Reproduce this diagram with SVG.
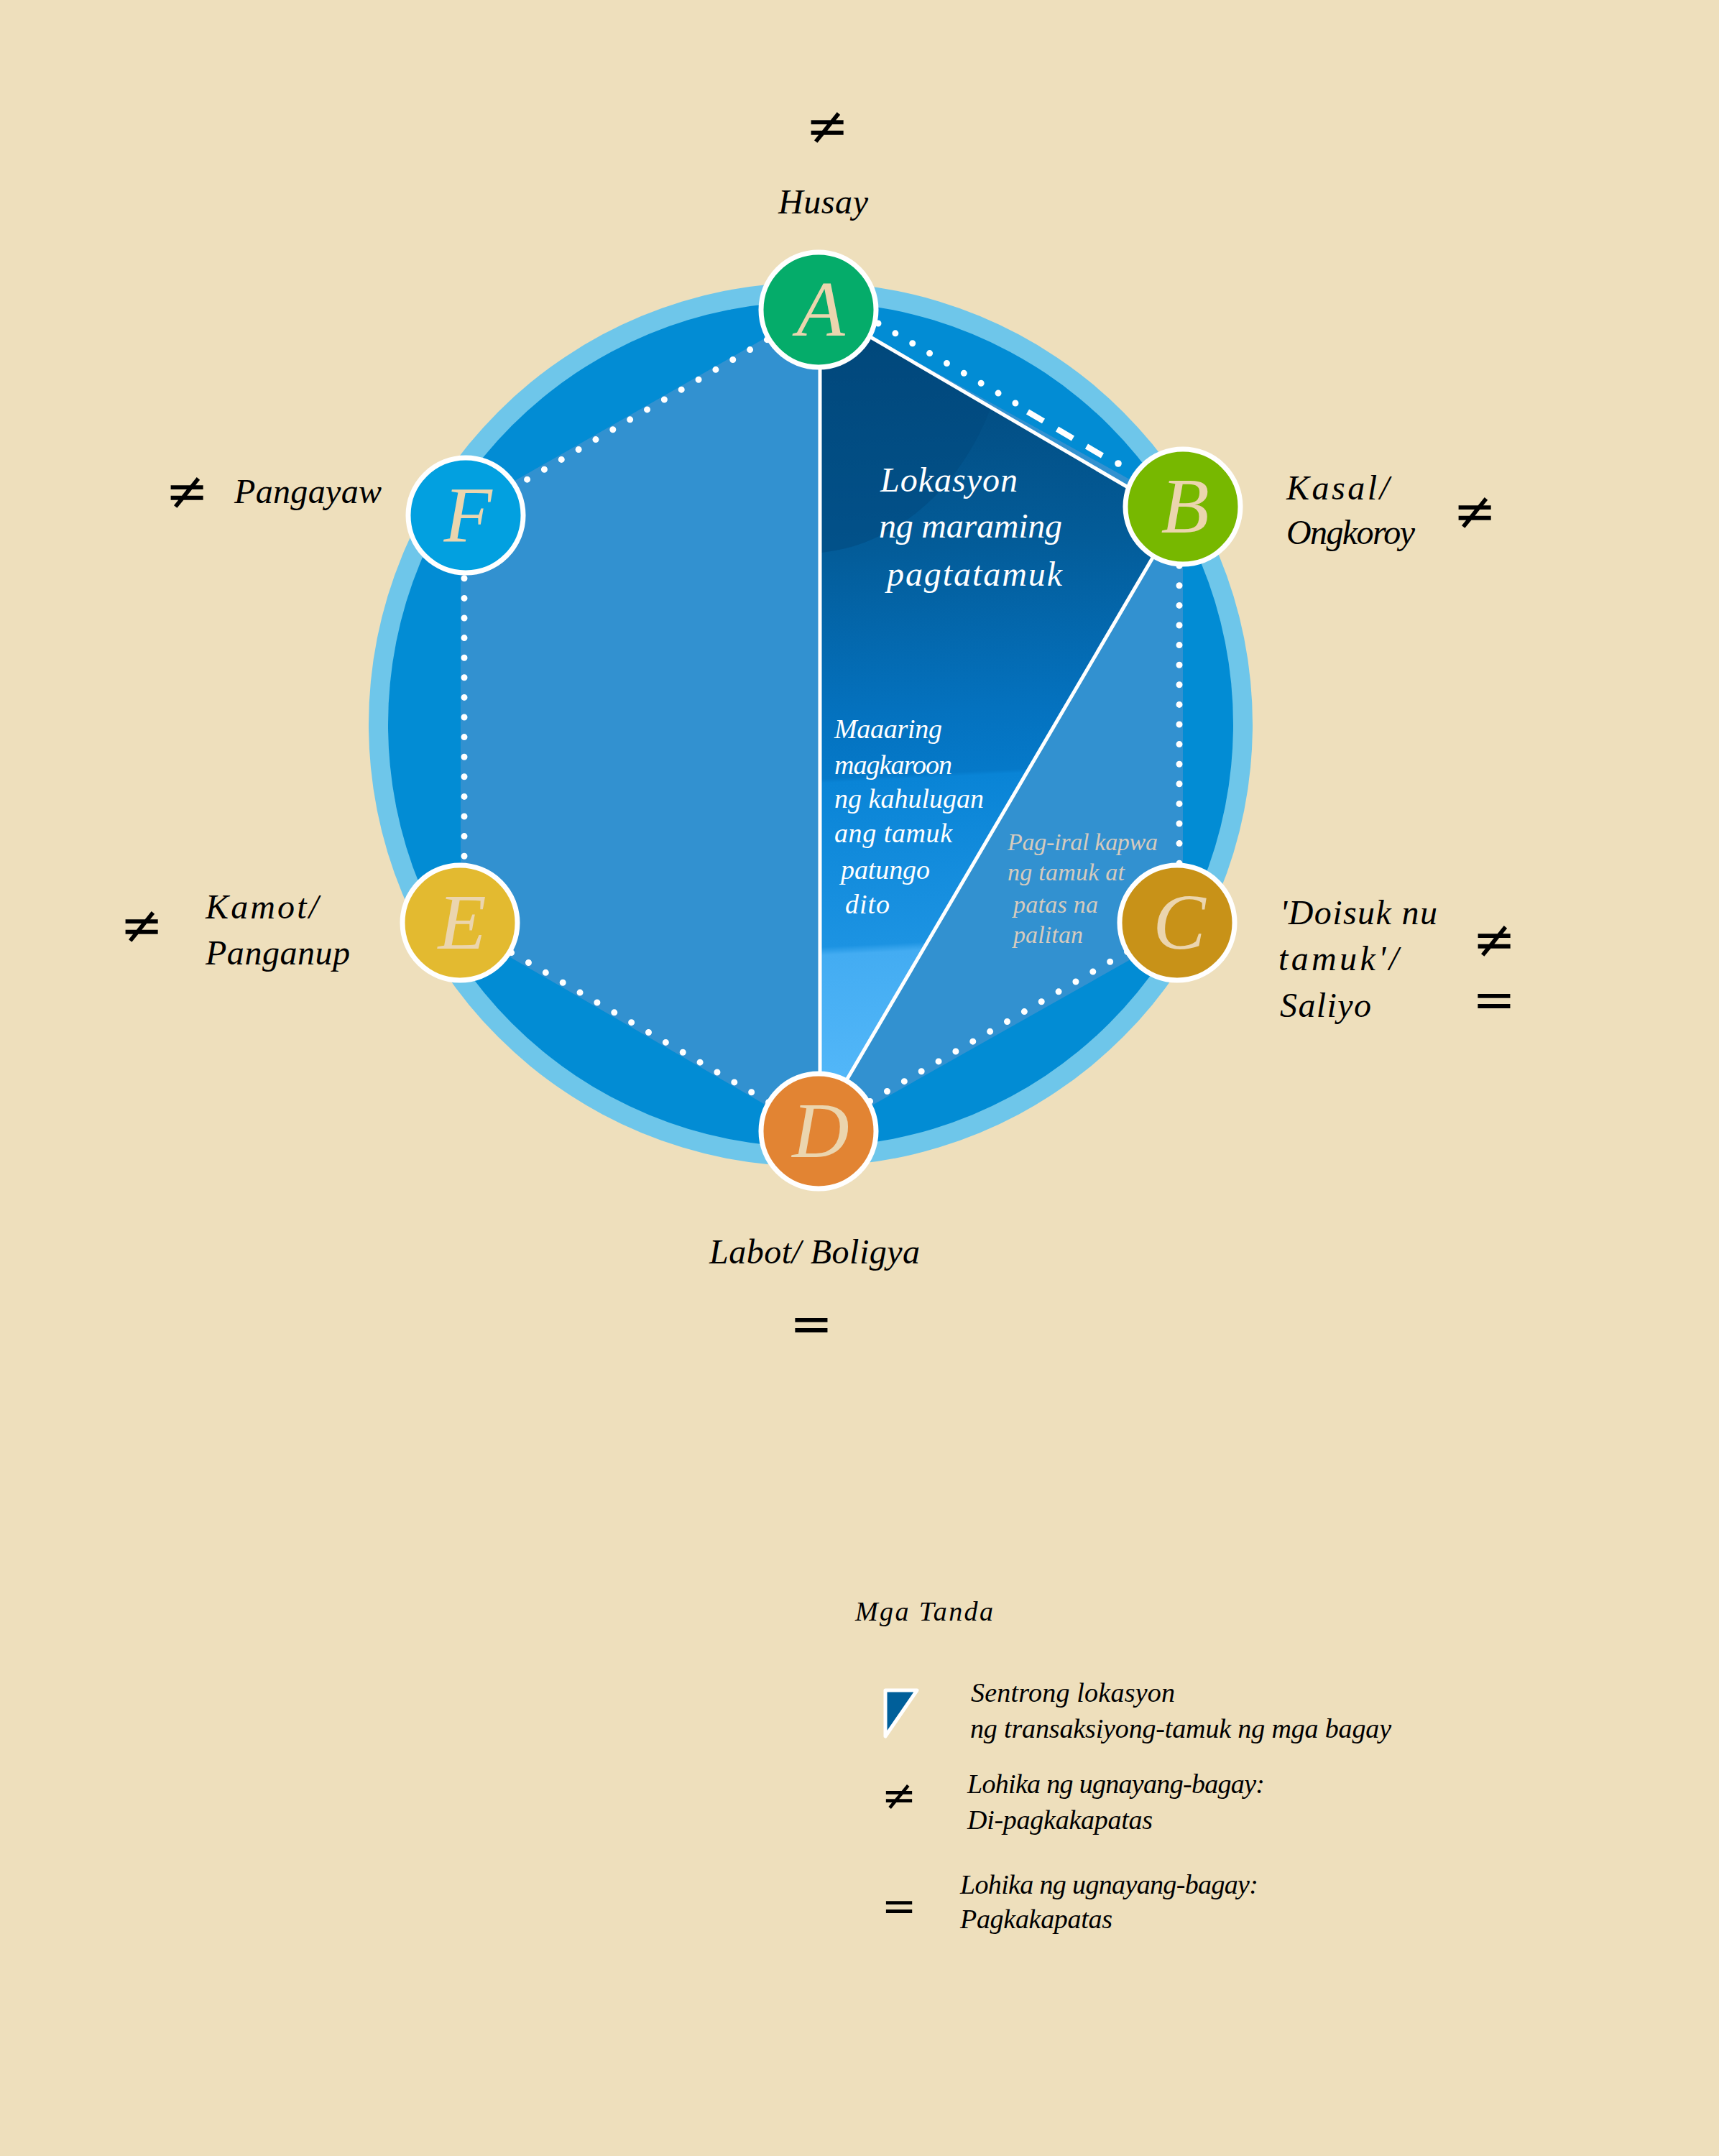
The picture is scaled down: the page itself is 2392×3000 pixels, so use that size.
<svg xmlns="http://www.w3.org/2000/svg" width="2392" height="3000" viewBox="0 0 2392 3000">
<defs>
<style>
.lbl{font-family:'Liberation Serif','DejaVu Serif',serif;font-style:italic;fill:#000;font-size:48px}
.inw{font-family:'Liberation Serif','DejaVu Serif',serif;font-style:italic;fill:#fff}
.pag{font-family:'Liberation Serif','DejaVu Serif',serif;font-style:italic;fill:#D6CBBE;font-size:34px}
.leg{font-family:'Liberation Serif','DejaVu Serif',serif;font-style:italic;fill:#000;font-size:38px}
.sym{font-family:'DejaVu Sans',sans-serif;font-size:72px;fill:#000;text-anchor:middle}
.symS{font-family:'DejaVu Sans',sans-serif;font-size:58px;fill:#000;text-anchor:middle}
.dot{stroke:#fff;stroke-width:9;stroke-linecap:round;stroke-dasharray:0 27.6;fill:none}
.node circle{stroke:#fff;stroke-width:7}
.node text{font-family:'Liberation Serif','DejaVu Serif',serif;font-style:italic;font-size:110px;fill:#EBD5AE;text-anchor:middle}
</style>
<linearGradient id="triGrad" gradientUnits="userSpaceOnUse" x1="1141" y1="428" x2="1200" y2="1566">
<stop offset="0" stop-color="#024474"/>
<stop offset="0.30" stop-color="#035c99"/>
<stop offset="0.50" stop-color="#0472bf"/>
<stop offset="0.575" stop-color="#0579c9"/>
<stop offset="0.58" stop-color="#0984d6"/>
<stop offset="0.78" stop-color="#1c93e2"/>
<stop offset="0.79" stop-color="#43acf2"/>
<stop offset="1" stop-color="#58bbfb"/>
</linearGradient>
<clipPath id="triClip"><polygon points="1141,428 1638,718 1141,1566"/></clipPath>
</defs>

<rect x="0" y="0" width="2392" height="3000" fill="#EEDFBC"/>

<g id="disc">
<circle cx="1128" cy="1008" r="615" fill="#6EC6EA"/>
<circle cx="1128" cy="1008" r="588" fill="#028CD4"/>
<polygon points="1139,428 1646,708 1646,1294 1139,1580 641,1292 641,712" fill="#3291D0"/>
</g>

<g id="focus-triangle">
<polygon points="1141,428 1638,718 1141,1566" fill="url(#triGrad)"/>
<ellipse cx="1120" cy="420" rx="285" ry="350" fill="#01487e" opacity="0.55" clip-path="url(#triClip)"/>
<polygon points="1141,428 1638,718 1141,1566" fill="none" stroke="#fff" stroke-width="5" stroke-linejoin="round"/>
</g>

<g id="connectors">
<line class="dot" x1="1139" y1="431" x2="648" y2="717"/>
<line class="dot" x1="646" y1="722" x2="646" y2="1284"/>
<line class="dot" x1="640" y1="1284" x2="1139" y2="1574"/>
<line class="dot" x1="1139" y1="1574" x2="1638" y2="1284"/>
<line class="dot" x1="1641" y1="1284" x2="1641" y2="705"/>
<line class="dot" x1="1222" y1="450" x2="1413" y2="561"/>
<line x1="1430" y1="573" x2="1534" y2="634" stroke="#fff" stroke-width="8" stroke-dasharray="25.5 22"/>
<circle cx="1556" cy="645" r="4.8" fill="#fff"/>
</g>

<g id="node-A" class="node"><circle cx="1139" cy="431" r="80" fill="#05AC6A"/><text x="1142" y="467">A</text></g>
<g id="node-B" class="node"><circle cx="1646" cy="705" r="80" fill="#77B800"/><text x="1649" y="741">B</text></g>
<g id="node-C" class="node"><circle cx="1638" cy="1284" r="80" fill="#C89218"/><text x="1641" y="1320">C</text></g>
<g id="node-D" class="node"><circle cx="1139" cy="1574" r="80" fill="#E28433"/><text x="1142" y="1610">D</text></g>
<g id="node-E" class="node"><circle cx="640" cy="1284" r="80" fill="#E3BA30"/><text x="643" y="1320">E</text></g>
<g id="node-F" class="node"><circle cx="648" cy="717" r="80" fill="#02A0E0"/><text x="651" y="753">F</text></g>

<g id="labels">
<text class="sym" x="1151" y="200">≠</text>
<text class="lbl" x="1083" y="297" textLength="125">Husay</text>

<text class="sym" x="260" y="708">≠</text>
<text class="lbl" x="326" y="700" textLength="205">Pangayaw</text>

<text class="lbl" x="1790" y="695" textLength="143">Kasal/</text>
<text class="lbl" x="1790" y="757" textLength="179">Ongkoroy</text>
<text class="sym" x="2052" y="736">≠</text>

<text class="sym" x="197" y="1312">≠</text>
<text class="lbl" x="286" y="1278" textLength="157">Kamot/</text>
<text class="lbl" x="286" y="1342" textLength="201">Panganup</text>

<text class="lbl" x="1781" y="1286" textLength="219">'Doisuk nu</text>
<text class="lbl" x="1779" y="1350" textLength="167">tamuk'/</text>
<text class="lbl" x="1781" y="1415" textLength="127">Saliyo</text>
<text class="sym" x="2079" y="1332">≠</text>
<text class="sym" x="2079" y="1415">=</text>

<text class="lbl" x="987" y="1758" textLength="293">Labot/ Boligya</text>
<text class="sym" x="1129" y="1866">=</text>

<text class="inw" font-size="48" x="1225" y="684" textLength="191">Lokasyon</text>
<text class="inw" font-size="48" x="1223" y="748" textLength="255">ng maraming</text>
<text class="inw" font-size="48" x="1234" y="815" textLength="244">pagtatamuk</text>

<text class="inw" font-size="38" x="1161" y="1027" textLength="150">Maaaring</text>
<text class="inw" font-size="38" x="1161" y="1077" textLength="164">magkaroon</text>
<text class="inw" font-size="38" x="1161" y="1124" textLength="208">ng kahulugan</text>
<text class="inw" font-size="38" x="1161" y="1172" textLength="164">ang tamuk</text>
<text class="inw" font-size="38" x="1170" y="1223" textLength="124">patungo</text>
<text class="inw" font-size="38" x="1176" y="1271" textLength="62">dito</text>

<text class="pag" x="1402" y="1183" textLength="209">Pag-iral kapwa</text>
<text class="pag" x="1402" y="1225" textLength="163">ng tamuk at</text>
<text class="pag" x="1410" y="1270" textLength="118">patas na</text>
<text class="pag" x="1410" y="1312" textLength="97">palitan</text>
</g>

<g id="legend">
<text class="leg" x="1190" y="2255" textLength="192">Mga Tanda</text>
<polygon points="1232,2352 1276,2352 1232,2416" fill="#005F9A" stroke="#fff" stroke-width="5" stroke-linejoin="round"/>
<text class="leg" x="1351" y="2368" textLength="284">Sentrong lokasyon</text>
<text class="leg" x="1350" y="2418" textLength="586">ng transaksiyong-tamuk ng mga bagay</text>
<text class="symS" x="1251" y="2518">≠</text>
<text class="leg" x="1346" y="2495" textLength="414">Lohika ng ugnayang-bagay:</text>
<text class="leg" x="1346" y="2545" textLength="258">Di-pagkakapatas</text>
<text class="symS" x="1251" y="2672">=</text>
<text class="leg" x="1336" y="2635" textLength="415">Lohika ng ugnayang-bagay:</text>
<text class="leg" x="1336" y="2683" textLength="212">Pagkakapatas</text>
</g>
</svg>
